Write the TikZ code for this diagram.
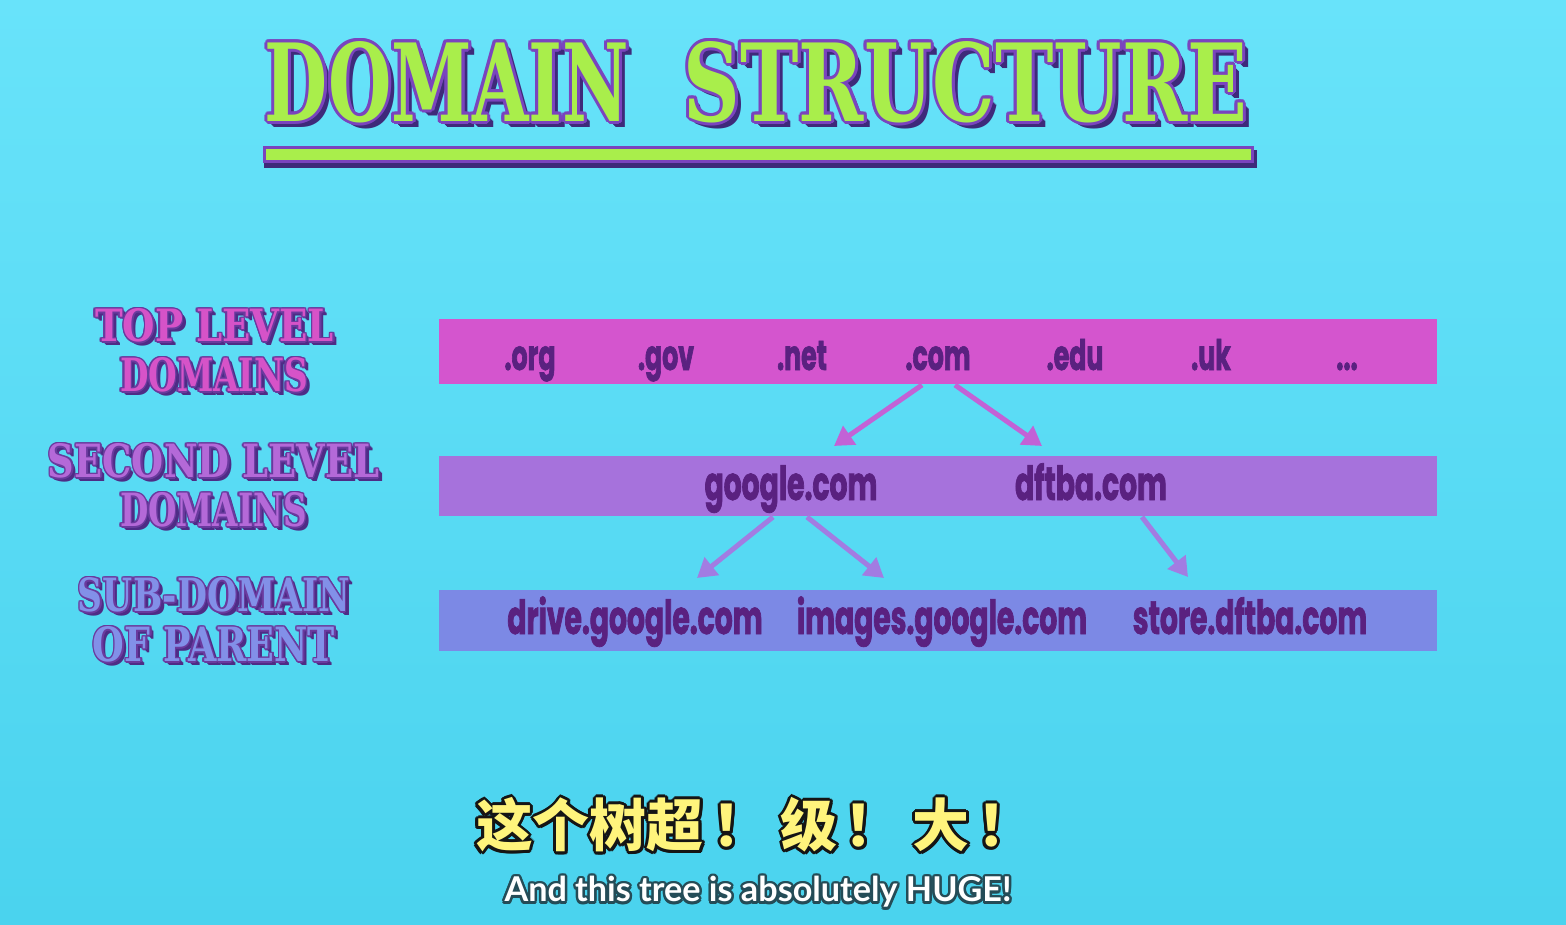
\documentclass[tikz,border=0pt]{standalone}
\usepackage{fontspec}
\usepackage{graphicx}
\usetikzlibrary{arrows.meta,calc}
\newfontfamily\pixfont{DejaVu Serif}
\newfontfamily\barfont{Poppins}[FakeStretch=0.6,FakeBold=1.5]
\newfontfamily\cjkfont{Noto Sans CJK SC}
\newfontfamily\subfont{Lato}
\definecolor{bgtop}{HTML}{68E3FA}
\definecolor{bgbot}{HTML}{4AD3EE}
\definecolor{tldbar}{HTML}{D455CE}
\definecolor{sldbar}{HTML}{A672DC}
\definecolor{subbar}{HTML}{7C89E5}
\definecolor{bartxt}{HTML}{5A2180}
\definecolor{arrA}{HTML}{C262D6}
\definecolor{arrB}{HTML}{A27CE2}
\definecolor{titlefill}{HTML}{A9EE4B}
\definecolor{titleout}{HTML}{7A44BE}
\definecolor{titleshadow}{HTML}{3E2A7A}
\definecolor{labA}{HTML}{D653C8}
\definecolor{labB}{HTML}{B469D8}
\definecolor{labC}{HTML}{8290E8}
\definecolor{labout}{HTML}{6A3A9E}
\definecolor{labshadow}{HTML}{4E2C86}
\definecolor{cjkfill}{HTML}{FFF47C}
\definecolor{cjkout}{HTML}{151515}
\definecolor{enout}{HTML}{244C57}
% #1 name, #2 position, #3 content, #4 fill, #5 outline, #6 shadow, #7 outline width, #8 shadow depth
\newcommand\fancytxt[8]{%
  \foreach \k in {1,...,#8} \node[inner sep=0pt,text=#6] (#1-s\k) at ($(#2)+(\k,\k)$) {#3};
  \foreach \a in {0,30,...,330} \node[inner sep=0pt,text=#5] (#1-o\a) at ($(#2)+(\a:#7)$) {#3};
  \node[inner sep=0pt,text=#4] (#1) at (#2) {#3};
}
\begin{document}
\begin{tikzpicture}[x=1pt,y=-1pt,
  bar/.style={inner sep=0pt,minimum width=998pt},
  bartext/.style={inner sep=0pt,anchor=base,text=bartxt},
  topfont/.style={font=\barfont\bfseries\fontsize{42}{42}\selectfont},
  midfont/.style={font=\barfont\bfseries\fontsize{47}{47}\selectfont},
  arrowA/.style={draw=arrA,line width=5pt,-{Triangle[length=19pt,width=22pt]}},
  arrowB/.style={draw=arrB,line width=5pt,-{Triangle[length=19pt,width=22pt]}}]
\useasboundingbox (0,0) rectangle (1566,925);
\shade[top color=bgtop,bottom color=bgbot] (0,0) rectangle (1566,925);

% title
\fancytxt{tdomain}{447,82}{\resizebox{364pt}{80pt}{\pixfont\bfseries DOMAIN}}{titlefill}{titleout}{titleshadow}{3}{6}
\fancytxt{tstruct}{965.5,82}{\resizebox{563pt}{80pt}{\pixfont\bfseries STRUCTURE}}{titlefill}{titleout}{titleshadow}{3}{6}
\node[inner sep=0pt,fill=titleshadow,minimum width=993pt,minimum height=18pt] (ulineS) at (760.5,159.5) {};
\node[inner sep=0pt,fill=titleout,minimum width=991pt,minimum height=17pt] (ulineO) at (758.5,154.5) {};
\node[inner sep=0pt,fill=titlefill,minimum width=985pt,minimum height=11pt] (uline) at (758.5,154.5) {};

% left labels
\fancytxt{lab1a}{214.5,325.5}{\resizebox{239pt}{33pt}{\pixfont\bfseries TOP LEVEL}}{labA}{labout}{labshadow}{1.5}{4}
\fancytxt{lab1b}{214,375}{\resizebox{188pt}{34pt}{\pixfont\bfseries DOMAINS}}{labA}{labout}{labshadow}{1.5}{4}
\fancytxt{lab2a}{213.5,461}{\resizebox{331pt}{34pt}{\pixfont\bfseries SECOND LEVEL}}{labB}{labout}{labshadow}{1.5}{4}
\fancytxt{lab2b}{213.5,510}{\resizebox{187pt}{34pt}{\pixfont\bfseries DOMAINS}}{labB}{labout}{labshadow}{1.5}{4}
\fancytxt{lab3a}{214,595}{\resizebox{272pt}{34pt}{\pixfont\bfseries SUB-DOMAIN}}{labC}{labout}{labshadow}{1.5}{4}
\fancytxt{lab3b}{214,644.5}{\resizebox{242pt}{35pt}{\pixfont\bfseries OF PARENT}}{labC}{labout}{labshadow}{1.5}{4}

% bars
\node[bar,fill=tldbar,minimum height=65pt] (tld) at (938,351.5) {};
\node[bar,fill=sldbar,minimum height=60pt] (sld) at (938,486) {};
\node[bar,fill=subbar,minimum height=61pt] (sub) at (938,620.5) {};

% top level
\node[bartext,topfont] (org) at (530,370) {.org};
\node[bartext,topfont] (gov) at (666,370) {.gov};
\node[bartext,topfont] (net) at (802,370) {.net};
\node[bartext,topfont] (com) at (938,370) {.com};
\node[bartext,topfont] (edu) at (1075,370) {.edu};
\node[bartext,topfont] (uk) at (1211,370) {.uk};
\node[bartext,topfont] (more) at (1347,370) {...};

% second level
\node[bartext,midfont] (google) at (791,500) {google.com};
\node[bartext,midfont] (dftba) at (1091,500) {dftba.com};

% sub-domains
\node[bartext,midfont] (drive) at (635,634) {drive.google.com};
\node[bartext,midfont] (images) at (942,634) {images.google.com};
\node[bartext,midfont] (store) at (1250,634) {store.dftba.com};

% arrow end points
\coordinate (comL) at (922,385);
\coordinate (comR) at (955,385);
\coordinate (googleIn) at (834,446);
\coordinate (dftbaIn) at (1042,446);
\coordinate (googleL) at (773,517);
\coordinate (googleR) at (807,517);
\coordinate (driveIn) at (697,578);
\coordinate (imagesIn) at (884,578);
\coordinate (dftbaOut) at (1142,517);
\coordinate (storeIn) at (1188,577);
\draw[arrowA] (comL) -- (googleIn);
\draw[arrowA] (comR) -- (dftbaIn);
\draw[arrowB] (googleL) -- (driveIn);
\draw[arrowB] (googleR) -- (imagesIn);
\draw[arrowB] (dftbaOut) -- (storeIn);

% subtitles
\fancytxt{cjk}{755,825}{\resizebox{558pt}{!}{\cjkfont\bfseries\fontsize{62}{62}\selectfont 这个树超\kern10pt！\kern12pt 级\kern8pt！\kern12pt 大\kern8pt！}}{cjkfill}{cjkout}{cjkout}{3}{1}
\fancytxt{en}{758,892}{\resizebox{507pt}{!}{\subfont\bfseries\fontsize{40}{40}\selectfont And this tree is absolutely HUGE!}}{white}{enout}{enout}{2.5}{1}
\end{tikzpicture}
\end{document}
